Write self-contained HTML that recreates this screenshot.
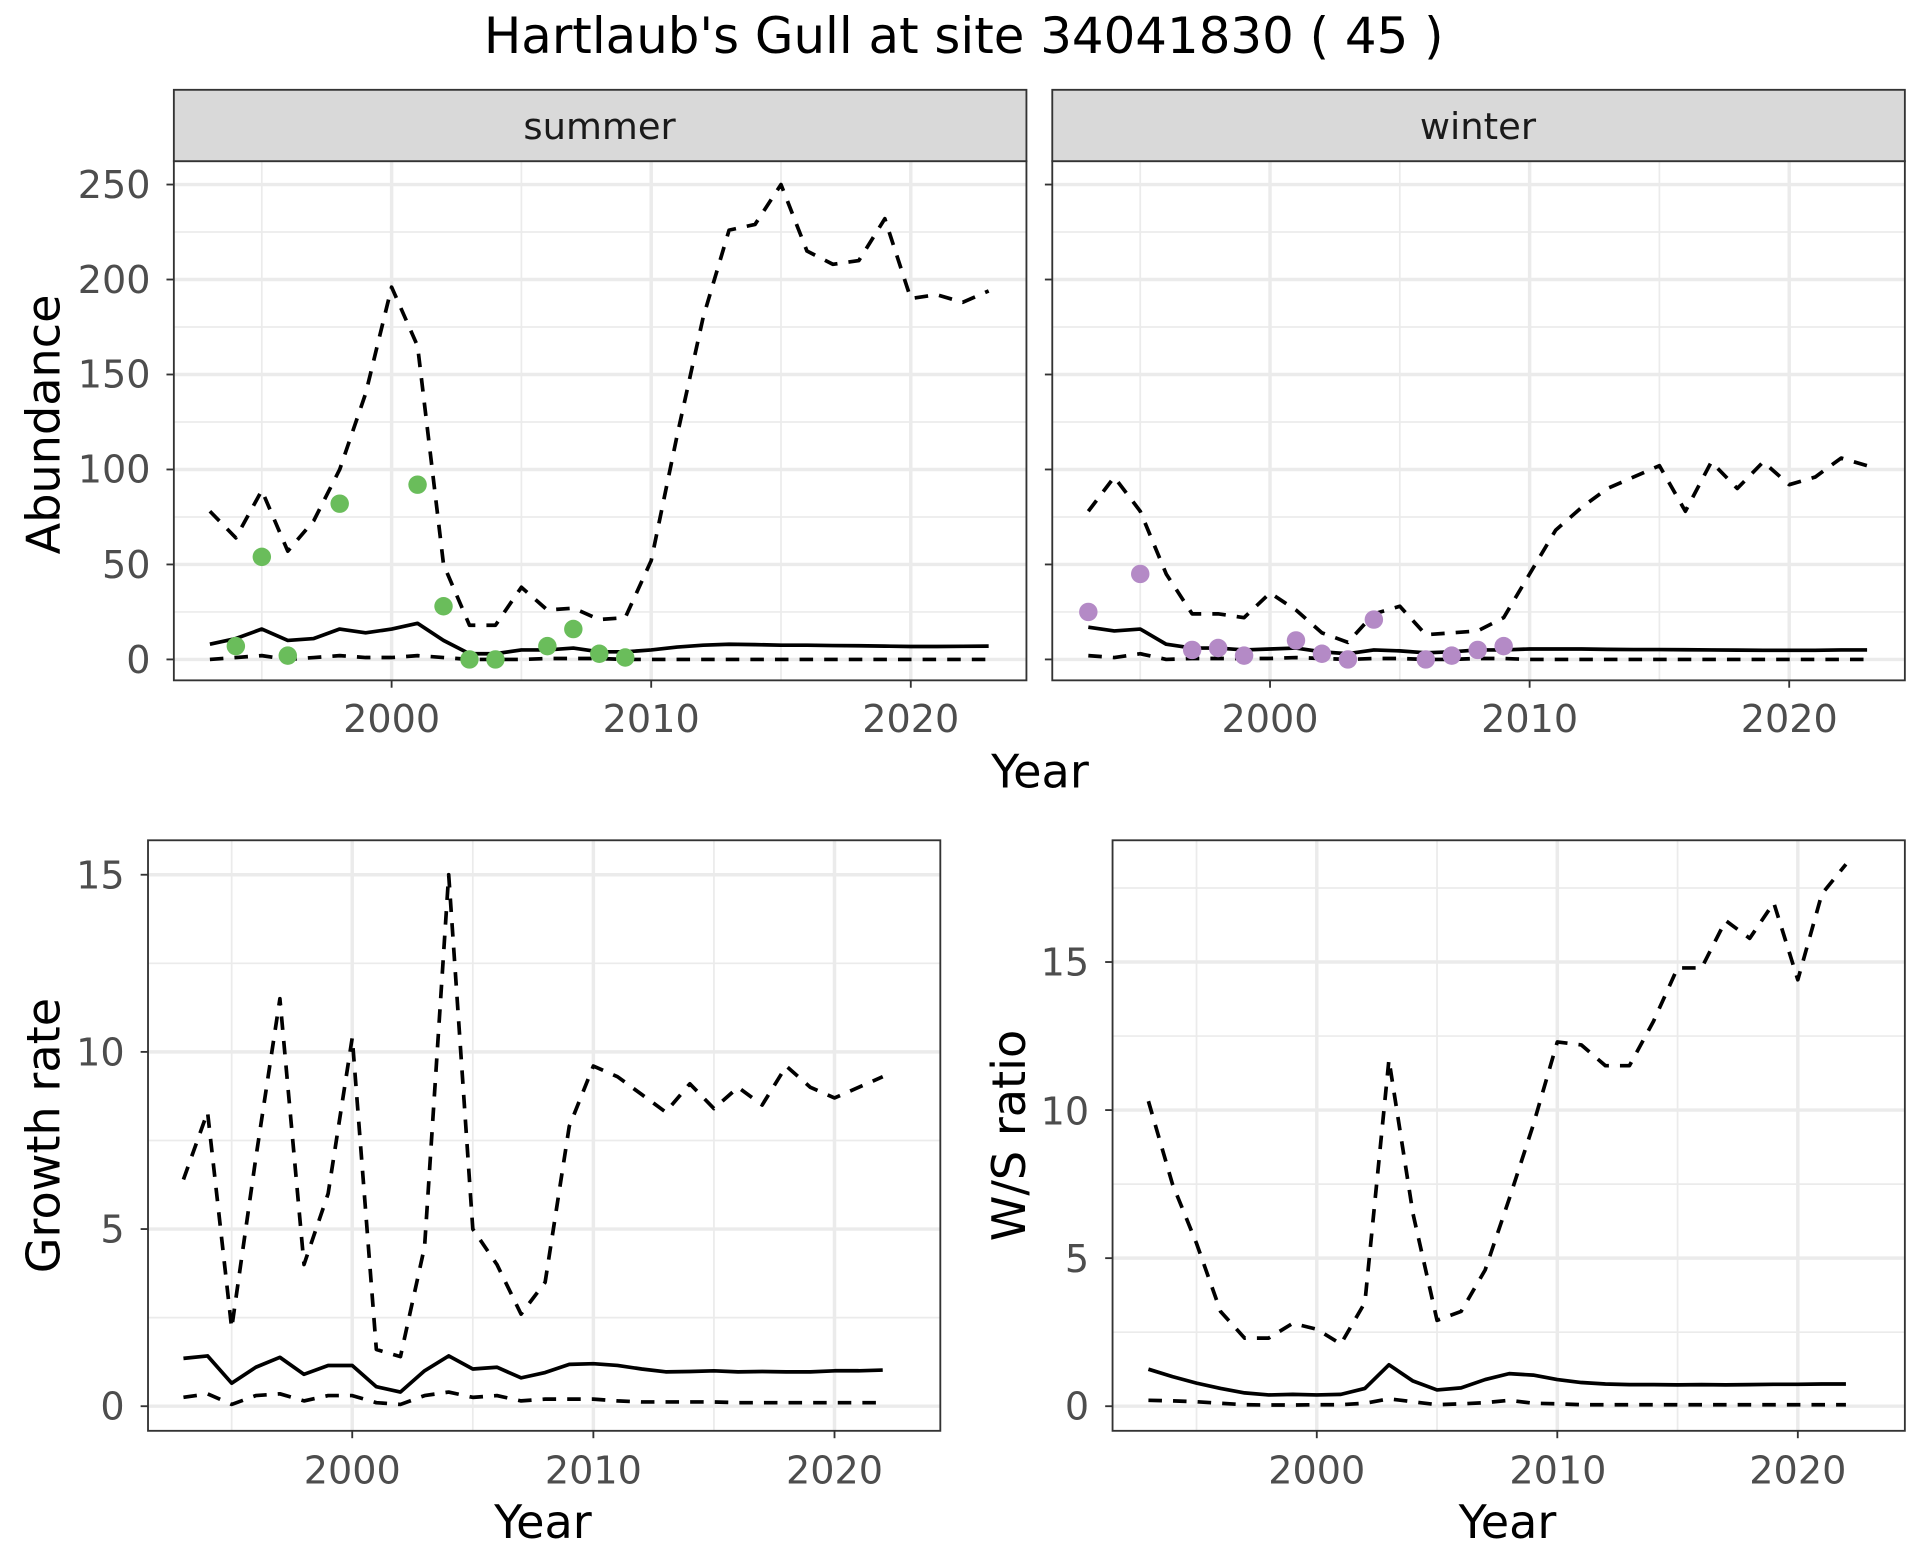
<!DOCTYPE html>
<html><head><meta charset="utf-8"><style>
html,body{margin:0;padding:0;background:#fff}
svg{display:block}
text{font-family:"DejaVu Sans","Liberation Sans",sans-serif}
.tk{fill:#4d4d4d;font-size:31px}
.ax{fill:#000;font-size:37.5px}
</style></head><body>
<svg id="s" width="1920" height="1560" viewBox="0 0 1560 1268" xmlns="http://www.w3.org/2000/svg">
<rect width="1560" height="1268" fill="#fff"/>
<text x="783" y="43" text-anchor="middle" style="font-size:40.5px">Hartlaub's Gull at site 34041830 ( 45 )</text>
<g id="grid"></g>
<g id="data"></g>
<rect x="141" y="73" width="693" height="58" fill="#d9d9d9" stroke="#333" stroke-width="1.5"/>
<rect x="855" y="73" width="693" height="58" fill="#d9d9d9" stroke="#333" stroke-width="1.5"/>
<text x="487" y="113" text-anchor="middle" style="font-size:30px;fill:#1a1a1a">summer</text>
<text x="1201" y="113" text-anchor="middle" style="font-size:30px;fill:#1a1a1a">winter</text>
<g class="tk" text-anchor="end">
<text x="122" y="161">250</text><text x="122" y="238">200</text><text x="122" y="315">150</text>
<text x="122" y="392">100</text><text x="122" y="470">50</text><text x="122" y="547">0</text>
</g>
<g class="tk" text-anchor="middle">
<text x="318" y="595">2000</text><text x="529" y="595">2010</text><text x="740" y="595">2020</text>
<text x="1032" y="595">2000</text><text x="1243" y="595">2010</text><text x="1454" y="595">2020</text>
</g>
<text class="ax" x="845" y="640" text-anchor="middle">Year</text>
<text class="ax" transform="translate(48,345) rotate(-90)" text-anchor="middle">Abundance</text>
<g class="tk" text-anchor="end">
<text x="101" y="722">15</text><text x="101" y="866">10</text><text x="101" y="1010">5</text><text x="101" y="1154">0</text>
<text x="885" y="793">15</text><text x="885" y="914">10</text><text x="885" y="1034">5</text><text x="885" y="1154">0</text>
</g>
<g class="tk" text-anchor="middle">
<text x="286" y="1206">2000</text><text x="482" y="1206">2010</text><text x="678" y="1206">2020</text>
<text x="1070" y="1206">2000</text><text x="1266" y="1206">2010</text><text x="1461" y="1206">2020</text>
</g>
<text class="ax" x="441" y="1250" text-anchor="middle">Year</text>
<text class="ax" x="1225" y="1250" text-anchor="middle">Year</text>
<text class="ax" transform="translate(48,923) rotate(-90)" text-anchor="middle">Growth rate</text>
<text class="ax" transform="translate(833,923) rotate(-90)" text-anchor="middle">W/S ratio</text>
</svg>
<script>
const NS="http://www.w3.org/2000/svg";
const grid=document.getElementById('grid'),data=document.getElementById('data');
function el(p,tag,a){const e=document.createElementNS(NS,tag);for(const k in a)e.setAttribute(k,a[k]);p.appendChild(e);return e;}
function panel(P){
 const X=y=>P.x0+(y-2000)*P.sx, Y=v=>P.y0-v*P.sy;
 el(grid,'rect',{x:P.l,y:P.t,width:P.r-P.l,height:P.b-P.t,fill:'#fff'});
 for(let v=P.ymin;v<=P.ymax;v+=P.ys/2){const y=Y(v);if(y<P.t||y>P.b)continue;const maj=Math.abs(v/P.ys-Math.round(v/P.ys))<1e-6;
  el(grid,'line',{x1:P.l,x2:P.r,y1:y,y2:y,stroke:'#ebebeb','stroke-width':maj?2.8:1.4});}
 for(let yr=1990;yr<=2030;yr+=5){const x=X(yr);if(x<P.l||x>P.r)continue;const maj=yr%10==0;
  el(grid,'line',{x1:x,x2:x,y1:P.t,y2:P.b,stroke:'#ebebeb','stroke-width':maj?2.8:1.4});}
 const g=el(data,'g',{});
 const line=(arr,d)=>{el(g,'polyline',{points:arr.map((v,i)=>X(P.start+i)+','+Y(v)).join(' '),fill:'none',stroke:'#000','stroke-width':3,'stroke-dasharray':d?'11,9':'none','stroke-linejoin':'round'});};
 line(P.up,1);line(P.mean,0);line(P.lo,1);
 if(P.pts)for(const [yr,v] of P.pts)el(g,'circle',{cx:X(yr),cy:Y(v),r:7.5,fill:P.col});
 el(data,'rect',{x:P.l,y:P.t,width:P.r-P.l,height:P.b-P.t,fill:'none',stroke:'#333','stroke-width':1.5});
 for(let v=0;v<=P.ymax;v+=P.ys){el(data,'line',{x1:P.l-6,x2:P.l,y1:Y(v),y2:Y(v),stroke:'#333','stroke-width':1.5});}
 for(let yr=2000;yr<=2020;yr+=10){el(data,'line',{x1:X(yr),x2:X(yr),y1:P.b,y2:P.b+6,stroke:'#333','stroke-width':1.5});}
}
const sU=[78,64,89,57,73,100,140,196,165,50,18,18,38,26,27,21,22,52,118,180,226,229,250,215,208,210,232,190,192,188,194];
const sM=[8,11,16,10,11,16,14,16,19,10,3,3,5,5,6,4,4,5,6.5,7.5,8,7.8,7.5,7.5,7.3,7.2,7,6.8,6.8,6.9,7];
const sL=[0,1,2,0,1,2,1,1,2,1,0,0,0,0.5,0.5,0.5,0,0,0,0,0,0,0,0,0,0,0,0,0,0,0];
const wU=[78,96,78,45,24,24,22,35,26,14,9,24,28,13,14,15,22,45,68,80,90,96,102,78,104,90,104,92,96,106,102];
const wM=[17,15,16,8,6,6,5,5.5,6,4,3,5,4.5,3.5,4,5,5,5.5,5.5,5.5,5.3,5.2,5.2,5.1,5,4.9,4.8,4.8,4.8,5,5];
const wL=[2,1,3,0,0.5,0.5,0.5,0.5,1,0.5,0,0.5,0.5,0,0,0.5,0.5,0,0,0,0,0,0,0,0,0,0,0,0,0,0];
panel({l:141,r:834,t:131,b:553,x0:318,sx:21.1,y0:536,sy:1.544,ymin:0,ymax:275,ys:50,start:1993,up:sU,mean:sM,lo:sL,col:'#6abd5b',
 pts:[[1994,7],[1995,54],[1996,2],[1998,82],[2001,92],[2002,28],[2003,0],[2004,0],[2006,7],[2007,16],[2008,3],[2009,1]]});
panel({l:855,r:1548,t:131,b:553,x0:1032,sx:21.1,y0:536,sy:1.544,ymin:0,ymax:275,ys:50,start:1993,up:wU,mean:wM,lo:wL,col:'#b48ac6',
 pts:[[1993,25],[1995,45],[1997,5],[1998,6],[1999,2],[2001,10],[2002,3],[2003,0],[2004,21],[2006,0],[2007,2],[2008,5],[2009,7]]});
const gU=[6.4,8.3,2.2,7,11.5,4,6,10.4,1.6,1.4,4.5,15,5,4,2.6,3.5,7.9,9.6,9.3,8.8,8.3,9.1,8.4,9,8.5,9.6,9,8.7,9,9.3];
const gM=[1.35,1.42,0.65,1.1,1.38,0.9,1.15,1.15,0.55,0.4,1.0,1.42,1.05,1.1,0.8,0.95,1.18,1.2,1.15,1.05,0.97,0.98,1.0,0.97,0.98,0.97,0.97,1.0,1.0,1.02];
const gL=[0.25,0.35,0.05,0.3,0.35,0.15,0.3,0.3,0.1,0.05,0.3,0.4,0.25,0.3,0.15,0.2,0.2,0.2,0.15,0.12,0.12,0.12,0.12,0.1,0.1,0.1,0.1,0.1,0.1,0.1];
panel({l:120,r:764,t:683,b:1163,x0:286,sx:19.6,y0:1143,sy:28.8,ymin:0,ymax:16,ys:5,start:1993,up:gU,mean:gM,lo:gL});
const rU=[10.3,7.5,5.5,3.2,2.3,2.3,2.8,2.6,2.1,3.5,11.7,6.5,2.9,3.2,4.6,7,9.5,12.3,12.2,11.5,11.5,13,14.8,14.8,16.4,15.8,17,14.4,17.3,18.3];
const rM=[1.25,1,0.78,0.6,0.45,0.38,0.4,0.38,0.4,0.6,1.4,0.85,0.55,0.62,0.9,1.1,1.05,0.9,0.8,0.75,0.73,0.73,0.72,0.73,0.72,0.73,0.74,0.74,0.75,0.75];
const rL=[0.2,0.18,0.15,0.1,0.05,0.04,0.04,0.05,0.05,0.1,0.25,0.15,0.05,0.08,0.12,0.2,0.1,0.08,0.05,0.05,0.05,0.05,0.05,0.05,0.05,0.05,0.05,0.05,0.05,0.05];
panel({l:904,r:1548,t:683,b:1163,x0:1070,sx:19.55,y0:1143,sy:24.07,ymin:0,ymax:19.5,ys:5,start:1993,up:rU,mean:rM,lo:rL});
</script>
</body></html>
